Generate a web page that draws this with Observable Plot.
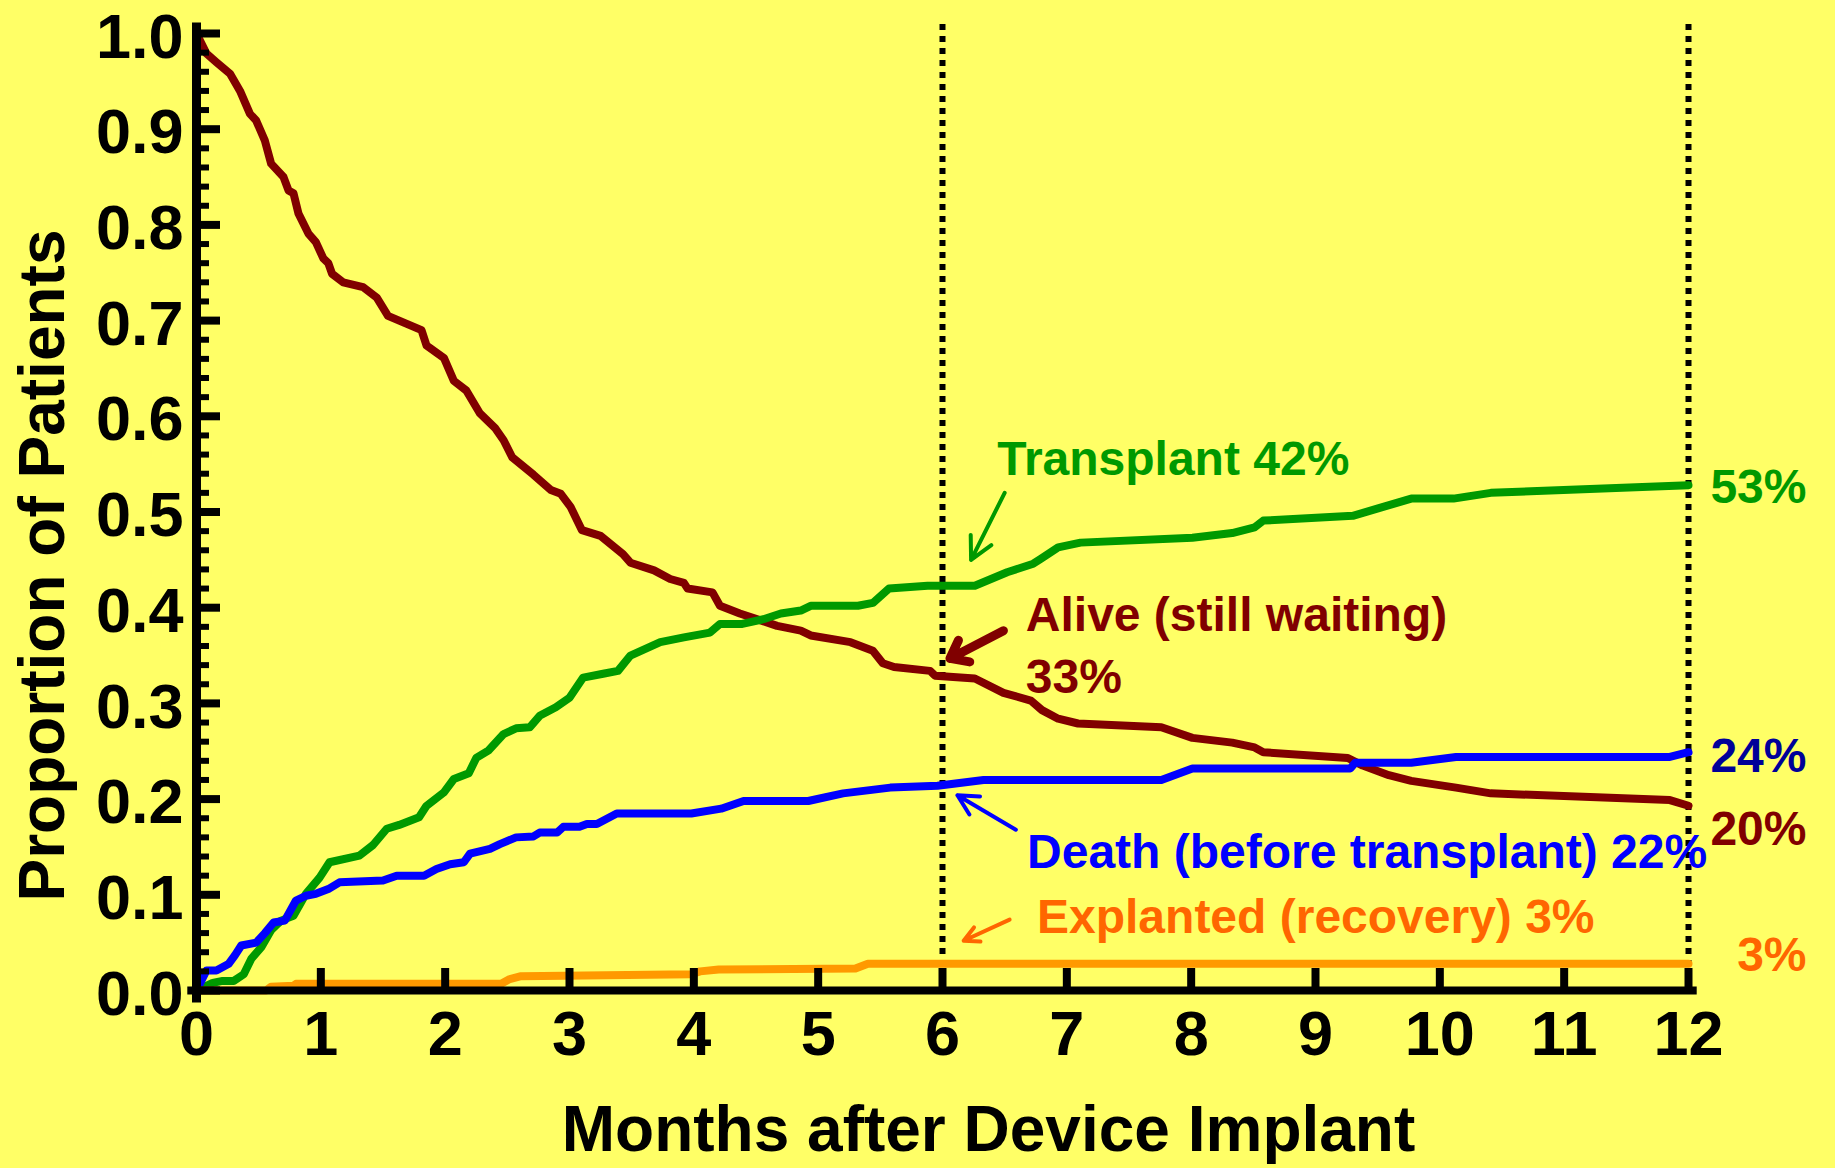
<!DOCTYPE html>
<html>
<head>
<meta charset="utf-8">
<script src="https://cdn.jsdelivr.net/npm/d3@7"></script>
<script src="https://cdn.jsdelivr.net/npm/@observablehq/plot@0.6"></script>
<style>
  html, body { margin: 0; padding: 0; background: #FFFF66; }
  #chart svg { display: block; }
</style>
</head>
<body>
<div id="chart"></div>
<script>
// ---- Data: [months after implant, proportion of patients] ----
const alive = [[0,1.0],[0.08,0.979],[0.16,0.970],[0.27,0.958],[0.35,0.940],[0.43,0.916],[0.48,0.909],[0.55,0.888],[0.60,0.864],[0.70,0.850],[0.74,0.836],[0.78,0.833],[0.82,0.812],[0.90,0.791],[0.96,0.782],[1.02,0.765],[1.06,0.760],[1.09,0.749],[1.18,0.740],[1.34,0.735],[1.45,0.724],[1.54,0.705],[1.63,0.700],[1.81,0.690],[1.85,0.674],[1.99,0.661],[2.07,0.637],[2.17,0.627],[2.28,0.603],[2.40,0.588],[2.47,0.575],[2.54,0.557],[2.71,0.539],[2.85,0.523],[2.93,0.519],[3.01,0.505],[3.10,0.481],[3.25,0.475],[3.43,0.456],[3.49,0.447],[3.68,0.439],[3.81,0.430],[3.92,0.426],[3.95,0.420],[4.15,0.416],[4.21,0.402],[4.37,0.394],[4.67,0.381],[4.86,0.376],[4.94,0.371],[5.26,0.364],[5.44,0.355],[5.52,0.342],[5.61,0.338],[5.90,0.334],[5.94,0.329],[6.26,0.326],[6.49,0.311],[6.71,0.303],[6.80,0.293],[6.93,0.284],[7.09,0.279],[7.76,0.275],[8.01,0.264],[8.33,0.259],[8.51,0.254],[8.58,0.249],[9.26,0.243],[9.38,0.235],[9.59,0.225],[9.77,0.219],[10.13,0.212],[10.41,0.206],[11.85,0.199],[12,0.193]];

const transplant = [[0,0],[0.13,0.008],[0.21,0.010],[0.30,0.010],[0.38,0.017],[0.44,0.033],[0.52,0.045],[0.60,0.063],[0.68,0.073],[0.78,0.078],[0.88,0.101],[0.99,0.118],[1.07,0.134],[1.31,0.141],[1.42,0.152],[1.53,0.169],[1.63,0.173],[1.79,0.181],[1.85,0.193],[1.99,0.207],[2.07,0.221],[2.19,0.227],[2.25,0.243],[2.35,0.251],[2.47,0.268],[2.57,0.274],[2.68,0.275],[2.76,0.287],[2.89,0.296],[3.00,0.306],[3.11,0.327],[3.27,0.331],[3.39,0.334],[3.49,0.350],[3.73,0.364],[3.92,0.369],[4.13,0.374],[4.21,0.383],[4.39,0.383],[4.56,0.388],[4.70,0.394],[4.86,0.397],[4.94,0.402],[5.32,0.402],[5.44,0.405],[5.57,0.420],[5.88,0.423],[6.26,0.423],[6.52,0.437],[6.73,0.446],[6.79,0.451],[6.93,0.463],[7.11,0.468],[8.01,0.473],[8.33,0.478],[8.51,0.484],[8.58,0.491],[9.30,0.496],[9.51,0.504],[9.77,0.514],[10.11,0.514],[10.41,0.520],[12,0.528]];

const death = [[0,0],[0.08,0.021],[0.16,0.021],[0.26,0.028],[0.31,0.037],[0.36,0.047],[0.48,0.050],[0.55,0.060],[0.62,0.071],[0.71,0.073],[0.80,0.094],[0.88,0.099],[0.96,0.101],[1.06,0.106],[1.15,0.113],[1.50,0.115],[1.61,0.120],[1.83,0.120],[1.93,0.127],[2.04,0.132],[2.15,0.134],[2.20,0.143],[2.36,0.148],[2.44,0.153],[2.57,0.160],[2.71,0.161],[2.76,0.165],[2.90,0.165],[2.95,0.171],[3.08,0.171],[3.14,0.174],[3.22,0.174],[3.38,0.185],[3.98,0.185],[4.22,0.190],[4.40,0.198],[4.92,0.198],[5.20,0.206],[5.58,0.212],[5.96,0.214],[6.33,0.220],[7.76,0.220],[8.01,0.232],[9.28,0.232],[9.32,0.238],[9.77,0.238],[10.13,0.244],[11.85,0.244],[12,0.249]];

const explanted = [[0,0],[0.56,0],[0.60,0.004],[0.78,0.005],[0.80,0.007],[2.45,0.007],[2.52,0.012],[2.61,0.015],[3.98,0.017],[4.05,0.020],[4.20,0.022],[5.30,0.023],[5.40,0.028],[12,0.028]];

const xTicks = [0,1,2,3,4,5,6,7,8,9,10,11,12];
const yMajorTicks = [0,0.1,0.2,0.3,0.4,0.5,0.6,0.7,0.8,0.9,1.0];
const yMinorTicks = d3.range(0, 51).map(i => i / 50);
const markerMonths = [6, 12];

const xTitle = "Months after Device Implant";
const yTitle = "Proportion of Patients";

// annotation texts (anchored in data units: month, proportion)
const annotations = [
  {key: "transplant", text: "Transplant 42%", x: 6.44, y: 0.539},
  {key: "alive", text: "Alive (still waiting)", x: 6.67, y: 0.376},
  {key: "alive", text: "33%", x: 6.67, y: 0.311},
  {key: "death", text: "Death (before transplant) 22%", x: 6.68, y: 0.128},
  {key: "explantText", text: "Explanted (recovery) 3%", x: 6.76, y: 0.060}
];
const arrows = [
  {key: "transplant", x1: 6.50, y1: 0.520, x2: 6.23, y2: 0.450},
  {key: "alive", x1: 6.49, y1: 0.376, x2: 6.06, y2: 0.347},
  {key: "death", x1: 6.59, y1: 0.168, x2: 6.12, y2: 0.204},
  {key: "explantText", x1: 6.54, y1: 0.074, x2: 6.17, y2: 0.052}
];
const endLabels = [
  {key: "transplant", text: "53%", y: 0.509},
  {key: "deathDark", text: "24%", y: 0.228},
  {key: "alive", text: "20%", y: 0.152},
  {key: "explantText", text: "3%", y: 0.020}
];

// ---- styles ----
const colors = {
  alive: "#800000", transplant: "#009900", death: "#0000FF", deathDark: "#000099",
  explantLine: "#FF9900", explantText: "#FF6600"
};
const seriesList = [
  {pts: alive, color: colors.alive},
  {pts: transplant, color: colors.transplant},
  {pts: death, color: colors.death},
  {pts: explanted, color: colors.explantLine}
];

const W = 1835, H = 1168;
const mL = 196, mR = 147, mT = 33, mB = 178;
const frameW = W - mL - mR, frameH = H - mT - mB;
const FONT = "'Liberation Sans', Arial, Helvetica, sans-serif";

const marks = [
  // dotted verticals at 6 and 12 months
  Plot.ruleX(markerMonths, {x: d => d, y1: 0, y2: 1.011, stroke: "black", strokeWidth: 6, strokeDasharray: "6,6"}),
  // series lines
  ...seriesList.map(s => Plot.line(s.pts, {x: d => d[0], y: d => d[1], stroke: s.color, strokeWidth: 8, strokeLinejoin: "round", strokeLinecap: "round"})),
  // axis lines
  Plot.ruleY([0], {x1: -0.07, x2: 12.07, stroke: "black", strokeWidth: 8}),
  Plot.ruleX([0], {y1: -0.013, y2: 1.011, stroke: "black", strokeWidth: 9}),
  // inward ticks
  Plot.ruleY(yMinorTicks, {y: d => d, insetRight: frameW - 13, stroke: "black", strokeWidth: 6}),
  Plot.ruleY(yMajorTicks, {y: d => d, insetRight: frameW - 24, stroke: "black", strokeWidth: 8}),
  Plot.ruleX(xTicks, {x: d => d, insetTop: frameH - 22, stroke: "black", strokeWidth: 8}),
  // tick labels
  Plot.axisY(yMajorTicks, {tickSize: 0, tickPadding: 13, tickFormat: d3.format(".1f"), fontSize: 63, fontWeight: "bold", fill: "black", label: null, dy: 4}),
  Plot.axisX(xTicks, {tickSize: 0, tickPadding: 20, tickFormat: d => String(d), fontSize: 63, fontWeight: "bold", fill: "black", label: null}),
  // titles
  Plot.text([xTitle], {text: d => d, frameAnchor: "bottom", dy: 160, dx: 46, lineAnchor: "bottom", textAnchor: "middle", fontSize: 64, fontWeight: "bold", fill: "black"}),
  Plot.text([yTitle], {text: d => d, frameAnchor: "left", rotate: -90, dx: -133, dy: 53.5, lineAnchor: "bottom", textAnchor: "middle", fontSize: 64, fontWeight: "bold", fill: "black"}),
  // annotations
  ...annotations.map(a => Plot.text([a], {x: "x", y: "y", text: "text", textAnchor: "start", lineAnchor: "bottom", fontSize: 48, fontWeight: "bold", fill: colors[a.key]})),
  ...arrows.map(a => Plot.arrow([a], {x1: "x1", y1: "y1", x2: "x2", y2: "y2", stroke: colors[a.key], strokeWidth: a.key === "alive" ? 9 : 4, headLength: a.key === "alive" ? 28 : 22, headAngle: a.key === "alive" ? 75 : 55})),
  ...endLabels.map(e => Plot.text([e], {y: "y", text: "text", frameAnchor: "right", dx: 118, textAnchor: "end", lineAnchor: "bottom", fontSize: 48, fontWeight: "bold", fill: colors[e.key]}))
];

const chart = Plot.plot({
  width: W, height: H,
  marginLeft: mL, marginRight: mR, marginTop: mT, marginBottom: mB,
  x: {domain: [0, 12], axis: null},
  y: {domain: [0, 1], axis: null},
  style: {background: "#FFFF66", fontFamily: FONT, fontWeight: "bold", overflow: "visible"},
  marks
});
document.getElementById("chart").appendChild(chart);
</script>
</body>
</html>
